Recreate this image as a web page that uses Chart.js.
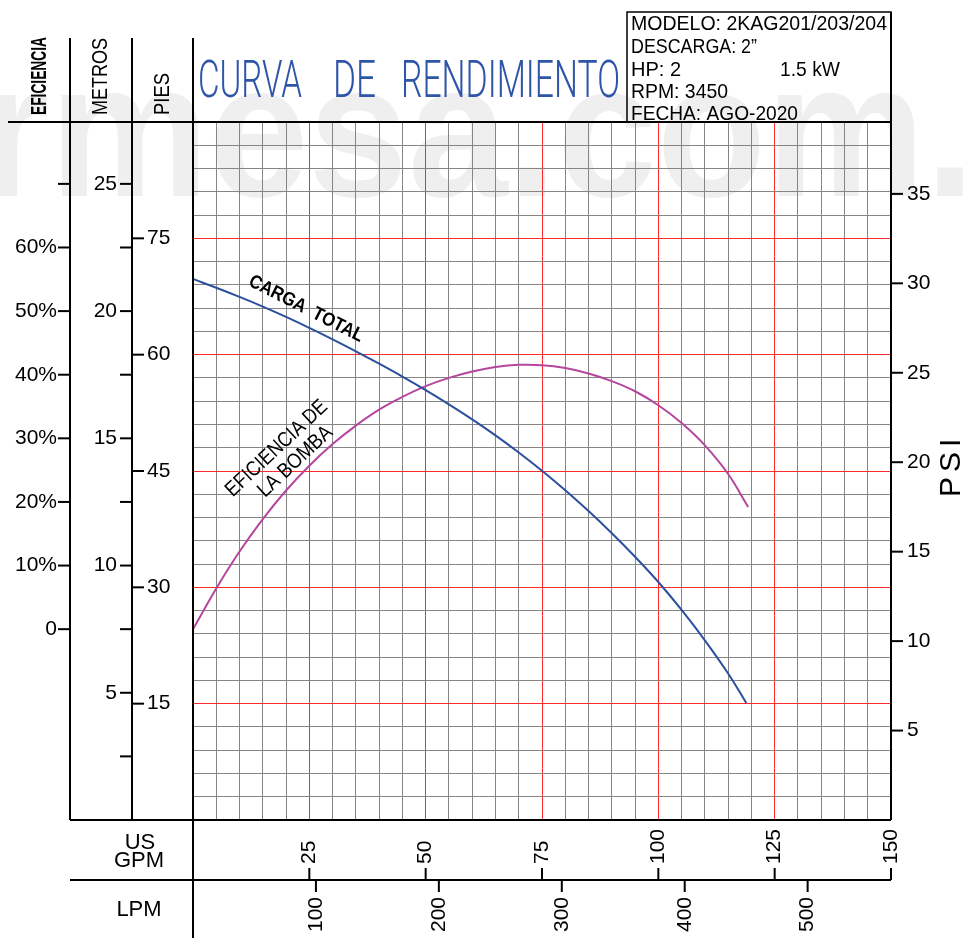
<!DOCTYPE html>
<html>
<head>
<meta charset="utf-8">
<script src="https://cdn.jsdelivr.net/npm/chart.js@4/dist/chart.umd.min.js"></script>
<style>
html,body{margin:0;padding:0;background:#fff;}
canvas{display:block;}
</style>
</head>
<body>
<canvas id="c" width="966" height="938"></canvas>
<script>
// ---------------- DATA ----------------
const flowGpm = [0,5,10,15,20,25,30,35,40,45,50,55,60,65,70,75,80,85,90,95,100,105,110,115,118.9];
const headFt  = [69.75,68.63,67.45,66.2,64.87,63.45,61.97,60.43,58.83,57.17,55.43,53.59,51.65,49.59,47.39,45.03,42.51,39.83,36.98,33.94,30.69,27.09,23.17,18.89,15.09];
const effGpm  = [0,5,10,15,20,25,30,35,40,45,50,55,60,65,70,75,80,85,90,95,100,105,110,115,119.3];
const effPct  = [0,6.4,12.2,17.3,21.8,25.7,29.1,32.0,34.5,36.5,38.2,39.5,40.5,41.2,41.55,41.5,41.05,40.2,39.0,37.4,35.2,32.4,28.9,24.4,19.2];

const effTicks    = [0,10,20,30,40,50,60,70];
const effLabels   = ['0','10%','20%','30%','40%','50%','60%',''];
const metrosTicks = [2.5,5,7.5,10,12.5,15,17.5,20,22.5,25];
const piesTicks   = [15,30,45,60,75];
const psiTicks    = [5,10,15,20,25,30,35];
const gpmTicks    = [25,50,75,100,125,150];
const lpmTicks    = [100,200,300,400,500];

const infoLines = ['MODELO: 2KAG201/203/204','DESCARGA: 2\u201D','HP: 2','RPM: 3450','FECHA: AGO-2020'];
const infoKw = '1.5 kW';
const titleWords = ['CURVA','DE','RENDIMIENTO'];

// unit conversions
const FT_MAX = 90, GPM_MAX = 150;
const FT_PER_M = 3.28084, FT_PER_PSI = 2.30666, LPM_PER_GPM = 3.78541;
const EFF_ZERO_M = 7.5, EFF_PER_M = 4;

// ---------------- helpers ----------------
const FONT = '"Liberation Sans", Arial, sans-serif';
function txt(c, s, x, y, o) {
  c.save();
  c.font = o.font;
  c.fillStyle = o.color || '#000';
  if (o.ls) c.letterSpacing = o.ls;
  c.translate(x, y);
  if (o.rot) c.rotate(o.rot);
  const m = c.measureText(s).width;
  const w = o.w || m;
  const dx = o.align === 'center' ? -w / 2 : (o.align === 'right' ? -w : 0);
  c.translate(dx, 0);
  c.scale(w / m, 1);
  c.textAlign = 'left';
  c.textBaseline = o.base || 'alphabetic';
  c.fillText(s, 0, 0);
  c.restore();
}
function line(c, x1, y1, x2, y2, w, col) {
  c.save();
  c.strokeStyle = col || '#000';
  c.lineWidth = w || 2;
  c.beginPath(); c.moveTo(x1, y1); c.lineTo(x2, y2); c.stroke();
  c.restore();
}

const deco = {
  id: 'deco',
  beforeDraw(chart) {
    const c = chart.ctx;
    c.save();
    c.fillStyle = '#fff';
    c.fillRect(0, 0, chart.width, chart.height);
    txt(c, 'rmesa.com.', -20, 196, {font: 'bold 192px ' + FONT, color: '#efefef', w: 995});
    c.restore();
  },
  afterDraw(chart) {
    const c = chart.ctx;
    const xS = chart.scales.x, yS = chart.scales.y;
    const yM = chart.scales.yM, yE = chart.scales.yEff, yP = chart.scales.yPsi, xL = chart.scales.xLpm;
    const L = xS.getPixelForValue(0), R = xS.getPixelForValue(GPM_MAX);
    const T = yS.getPixelForValue(FT_MAX), B = yS.getPixelForValue(0);
    const axE = 70, axM = 132, headTop = 38;
    const bot2 = 880;
    const f21 = '21px ' + FONT;

    // structure lines
    line(c, 8, T, R, T, 2);
    line(c, R, 12, R, B, 2);
    line(c, L, headTop, L, chart.height, 2);
    line(c, axE, headTop, axE, B, 2);
    line(c, axM, headTop, axM, B, 2);
    line(c, axE, B, R, B, 2);
    line(c, axE, bot2, R, bot2, 2);

    // efficiency axis
    effTicks.forEach((v, i) => {
      const y = yE.getPixelForValue(v);
      line(c, axE - 12, y, axE, y, 2);
      if (effLabels[i]) txt(c, effLabels[i], axE - 13, y, {font: f21, align: 'right', base: 'middle'});
    });
    // metros axis
    metrosTicks.forEach(v => {
      const y = yM.getPixelForValue(v);
      line(c, axM - 12, y, axM, y, 2);
      if (v % 5 === 0) txt(c, String(v), axM - 15, y, {font: f21, align: 'right', base: 'middle'});
    });
    // pies axis
    piesTicks.forEach(v => {
      const y = yS.getPixelForValue(v);
      line(c, axM, y, axM + 12, y, 2);
      txt(c, String(v), axM + 15, y, {font: f21, base: 'middle'});
    });
    // psi axis
    psiTicks.forEach(v => {
      const y = yP.getPixelForValue(v);
      line(c, R, y, R + 12, y, 2);
      txt(c, String(v), R + 16, y, {font: f21, base: 'middle'});
    });
    txt(c, 'PSI', 952, 497, {font: '30px ' + FONT, rot: -Math.PI / 2, base: 'middle', ls: '5px'});

    // GPM axis
    gpmTicks.forEach(v => {
      const x = xS.getPixelForValue(v);
      line(c, x, bot2 - 12, x, bot2, 2);
      txt(c, String(v), x, bot2 - 16, {font: f21, rot: -Math.PI / 2, base: 'middle'});
    });
    // LPM axis
    lpmTicks.forEach(v => {
      const x = xL.getPixelForValue(v);
      line(c, x, bot2, x, bot2 + 12, 2);
      txt(c, String(v), x, 932, {font: f21, rot: -Math.PI / 2, base: 'middle'});
    });
    txt(c, 'US', 140, 849, {font: '22px ' + FONT, align: 'center'});
    txt(c, 'GPM', 139, 867, {font: '22px ' + FONT, align: 'center'});
    txt(c, 'LPM', 139, 916, {font: '22px ' + FONT, align: 'center'});

    // headers
    txt(c, 'EFICIENCIA', 40, 115, {font: 'bold 22px ' + FONT, rot: -Math.PI / 2, base: 'middle', w: 78});
    txt(c, 'METROS', 101, 115, {font: '22px ' + FONT, rot: -Math.PI / 2, base: 'middle', w: 77});
    txt(c, 'PIES', 163, 115, {font: '22px ' + FONT, rot: -Math.PI / 2, base: 'middle', w: 42});

    // title (word by word)
    const tX = [198, 333, 401], tW = [104, 43, 219];
    titleWords.forEach((s, i) => txt(c, s, tX[i], 97, {font: '300 52px Roboto, ' + FONT, color: '#2f55a8', w: tW[i]}));

    // info box
    c.save();
    c.strokeStyle = '#000'; c.lineWidth = 1.5;
    c.strokeRect(627, 12, R - 627, T - 12);
    c.restore();
    const infoW = [256, 126, 50, 97, 167];
    const infoY = [30, 53, 76, 98, 120];
    infoLines.forEach((s, i) => txt(c, s, 631, infoY[i], {font: f21, w: infoW[i]}));
    txt(c, infoKw, 780, 76, {font: f21, w: 60});

    // curve labels
    const a1 = 27 * Math.PI / 180;
    txt(c, 'CARGA  TOTAL', xS.getPixelForValue(24.3), yS.getPixelForValue(65.9),
        {font: 'bold 19px ' + FONT, rot: a1, align: 'center', base: 'middle', w: 126});
    const a2 = -43 * Math.PI / 180;
    txt(c, 'EFICIENCIA DE', xS.getPixelForValue(18.0), yS.getPixelForValue(47.9),
        {font: '21px ' + FONT, rot: a2, align: 'center', base: 'middle', w: 131});
    txt(c, 'LA BOMBA', xS.getPixelForValue(22.0), yS.getPixelForValue(46.2),
        {font: '21px ' + FONT, rot: a2, align: 'center', base: 'middle', w: 94});
  }
};

const RED = '#ff2b2b', GRAY = '#858585';
new Chart(document.getElementById('c').getContext('2d'), {
  type: 'line',
  data: {
    datasets: [
      {
        label: 'Carga total',
        data: flowGpm.map((g, i) => ({x: g, y: headFt[i]})),
        borderColor: '#2c4f9e', borderWidth: 2, pointRadius: 0,
        tension: 0.4, xAxisID: 'x', yAxisID: 'y'
      },
      {
        label: 'Eficiencia de la bomba',
        data: effGpm.map((g, i) => ({x: g, y: effPct[i]})),
        borderColor: '#b5469e', borderWidth: 2, pointRadius: 0,
        tension: 0.4, xAxisID: 'x', yAxisID: 'yEff'
      }
    ]
  },
  options: {
    responsive: false,
    animation: false,
    events: [],
    layout: {padding: {left: 193, right: 75, top: 122, bottom: 118}},
    plugins: {legend: {display: false}, tooltip: {enabled: false}},
    scales: {
      x: {
        type: 'linear', axis: 'x', position: 'bottom', min: 0, max: GPM_MAX,
        ticks: {display: false, stepSize: 5, maxTicksLimit: 200, autoSkip: false},
        grid: {drawTicks: false, lineWidth: 1, color: (ctx) => (ctx.tick && ctx.tick.value % 25 === 0) ? RED : GRAY},
        border: {display: false}
      },
      y: {
        type: 'linear', axis: 'y', position: 'left', min: 0, max: FT_MAX,
        ticks: {display: false, stepSize: 3, maxTicksLimit: 200, autoSkip: false},
        grid: {drawTicks: false, lineWidth: 1, color: (ctx) => (ctx.tick && ctx.tick.value % 15 === 0) ? RED : GRAY},
        border: {display: false}
      },
      yM:   {type: 'linear', axis: 'y', position: 'left', display: false, min: 0, max: FT_MAX / FT_PER_M},
      yEff: {type: 'linear', axis: 'y', position: 'left', display: false,
             min: (0 - EFF_ZERO_M) * EFF_PER_M, max: (FT_MAX / FT_PER_M - EFF_ZERO_M) * EFF_PER_M},
      yPsi: {type: 'linear', axis: 'y', position: 'right', display: false, min: 0, max: FT_MAX / FT_PER_PSI},
      xLpm: {type: 'linear', axis: 'x', position: 'bottom', display: false, min: 0, max: GPM_MAX * LPM_PER_GPM}
    }
  },
  plugins: [deco]
});
</script>
</body>
</html>
